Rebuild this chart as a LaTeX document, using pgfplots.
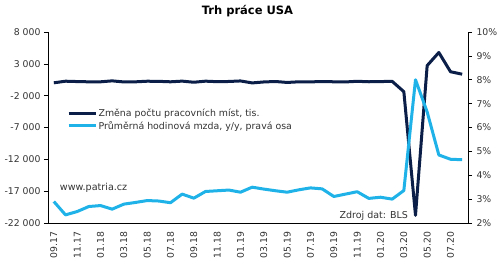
\documentclass[border=0pt]{standalone}
\usepackage{pgfplots}
\pgfplotsset{compat=1.18}
\usepackage{pgfplotstable}
\usepackage{fontspec}
\setmainfont{DejaVu Sans}
\definecolor{navy}{RGB}{10,30,72}
\definecolor{sky}{RGB}{30,178,232}

\pgfplotstableread{
x v
0 18
1 271
2 216
3 175
4 176
5 324
6 155
7 175
8 268
9 248
10 178
11 282
12 108
13 277
14 196
15 227
16 312
17 1
18 153
19 224
20 75
21 178
22 166
23 219
24 180
25 156
26 256
27 184
28 214
29 251
30 -1373
31 -20787
32 2725
33 4781
34 1761
35 1371
}\jobs

\pgfplotstableread{
x v
0 2.90
1 2.34
2 2.48
3 2.69
4 2.73
5 2.58
6 2.79
7 2.86
8 2.94
9 2.92
10 2.85
11 3.21
12 3.04
13 3.32
14 3.35
15 3.38
16 3.29
17 3.50
18 3.42
19 3.35
20 3.29
21 3.39
22 3.47
23 3.43
24 3.11
25 3.21
26 3.31
27 3.03
28 3.08
29 3.00
30 3.36
31 8.00
32 6.65
33 4.85
34 4.67
35 4.65
}\wages

\pgfplotsset{
  base/.style={
    width=420pt, height=191pt, scale only axis,
    xmin=-0.5, xmax=35.5,
    tick align=outside,
    major tick length=4pt, minor tick length=4pt,
    tick style={black, line width=0.6pt},
    axis line style={black, line width=0.8pt},
    ticklabel style={font=\fontsize{9.3}{11}\selectfont, text=black!80},
    /pgf/number format/assume math mode=true,
    /pgf/number format/1000 sep={\ },
  }
}

\begin{document}
\begin{tikzpicture}
\useasboundingbox (-48pt,-38pt) rectangle (452pt,223pt);
\begin{axis}[base,
  at={(0pt,0pt)}, anchor=south west,
  axis x line*=bottom, axis y line*=left,
  ymin=-22000, ymax=8000,
  ytick={-22000,-17000,...,8000},
  scaled y ticks=false,
  xtick={0,2,...,34},
  xticklabels={09.17,11.17,01.18,03.18,05.18,07.18,09.18,11.18,01.19,03.19,05.19,07.19,09.19,11.19,01.20,03.20,05.20,07.20},
  xtick style={draw=none},
  minor xtick={-0.5,1.5,...,35.5},
  minor x tick style={black, line width=0.6pt},
  xticklabel style={rotate=90, anchor=east, xshift=-1pt},
  title={\fontsize{11.5}{13}\selectfont\bfseries Trh práce USA},
  title style={at={(0.475,1)}, anchor=base, yshift=11pt},
]
\addplot[navy, line width=3pt, line join=round] table[x=x, y=v] {\jobs};
\node[anchor=base west, font=\fontsize{9.6}{11}\selectfont, text=black!80] at (rel axis cs:0.02,0.172) {www.patria.cz};
\node[anchor=base west, font=\fontsize{9.5}{11}\selectfont, text=black!80] at (rel axis cs:0.686,0.025) {Zdroj dat: BLS};
\end{axis}
\begin{axis}[base,
  at={(0pt,0pt)}, anchor=south west,
  axis x line=none, axis y line*=right,
  ymin=2, ymax=10, ytick={2,3,...,10},
  yticklabel={\pgfmathprintnumber{\tick}\%},
  yticklabel style={xshift=1pt},
  legend style={at={(rel axis cs:0.045,0.605)}, anchor=north west, draw=none, fill=none,
    font=\fontsize{9.4}{11}\selectfont, text=black!80, row sep=0pt,
    inner sep=0pt, nodes={inner sep=1.5pt}},
  legend cell align=left,
  legend image code/.code={\draw[#1, line width=3pt] (0pt,0pt) -- (27pt,0pt);},
]
\addlegendimage{navy}
\addlegendentry{Změna počtu pracovních míst, tis.}
\addplot[sky, line width=3pt, line join=round] table[x=x, y=v] {\wages};
\addlegendentry{Průměrná hodinová mzda, y/y, pravá osa}
\end{axis}
\end{tikzpicture}
\end{document}
